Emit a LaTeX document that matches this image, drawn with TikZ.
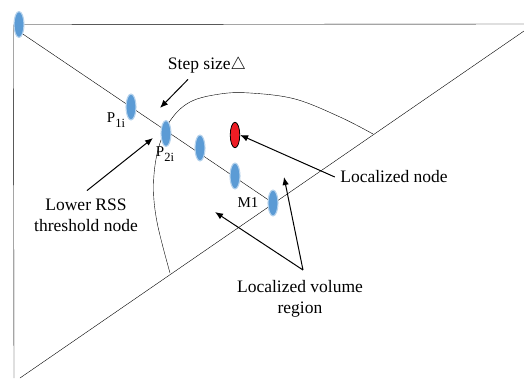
\documentclass[tikz,border=0pt]{standalone}
\usepackage{fontspec}
\setmainfont{Liberation Serif}
\usetikzlibrary{arrows.meta,shapes.geometric,backgrounds}
\definecolor{nodeblue}{RGB}{91,155,213}
\definecolor{nodered}{RGB}{237,28,36}
\newcommand{\lowsub}[1]{\raisebox{-4.5pt}{\fontsize{12.5}{13}\selectfont #1}}
\tikzset{
  anchornode/.style={ellipse,fill=nodeblue,draw=nodeblue!45,line width=1.1pt,
    minimum width=10pt,minimum height=26pt,inner sep=0pt},
  targetnode/.style={ellipse,fill=nodered,draw=black,line width=0.8pt,
    minimum width=9.5pt,minimum height=25.5pt,inner sep=0pt},
  bigtext/.style={font=\fontsize{17.5}{21}\selectfont,align=center,inner sep=2pt},
  smalltext/.style={font=\fontsize{15}{18}\selectfont,inner sep=1pt},
  pointer/.style={-{Latex[length=8pt,width=6.5pt]},line width=1pt},
}

\begin{document}
\begin{tikzpicture}[x=1pt,y=-1pt,line width=1.1pt]
  \useasboundingbox (0,0) rectangle (524,378);
  % sensor nodes along the walk
  \foreach \n/\x/\y in {s0/19/24.5,p1/131/107,p2/166/133.5,s3/200/148,s4/235/176,m1/273/203}
    \node[anchornode] (\n) at (\x,\y) {};
  \node[targetnode] (loc) at (235,135) {};
  % room corners
  \coordinate (topR) at (524,24);
  \coordinate (botL) at (14,378);
  \coordinate (diagL) at (20,378);
  \coordinate (diagR) at (524,31);
  \begin{scope}[on background layer]
    \draw (s0.center) -- (topR);
    \draw (s0.west) -- (botL);
    \draw (diagL) -- (diagR);
    \draw (s0.south east) -- (m1.center);
    % boundary of the volume region
    \draw plot[smooth,tension=0.6] coordinates {(170,273) (157,222) (153.5,185)
      (158,150) (170,121) (190,102) (220,94) (250,93) (295,99) (340,117) (373,134)};
  \end{scope}
  % labels
  \node[bigtext] (step) at (207,65) {Step size$\triangle$};
  \node[smalltext] (p1lbl) at (116,120) {P\lowsub{1i}};
  \node[smalltext] (p2lbl) at (165,154) {P\lowsub{2i}};
  \node[smalltext] (m1lbl) at (248,203) {M1};
  \node[bigtext] (rss) at (86,215) {Lower RSS\\threshold node};
  \node[bigtext] (locl) at (394,177) {Localized node};
  \node[bigtext] (vol) at (300,299) {Localized volume\\region};
  % pointers
  \coordinate (stepTip) at (160,108);
  \coordinate (rssTip) at (153,138);
  \coordinate (volTipA) at (284,177);
  \coordinate (volTipB) at (215,212);
  \coordinate (volTop) at ([shift={(3,-8)}]vol.north);
  \draw[pointer] ([shift={(-19,4)}]step.south) -- (stepTip);
  \draw[pointer] ([shift={(1,-5.5)}]rss.north) -- (rssTip);
  \draw[pointer] ([shift={(-3,0)}]locl.west) -- (loc.east);
  \draw[pointer] (volTop) -- (volTipA);
  \draw[pointer] (volTop) -- (volTipB);
\end{tikzpicture}
\end{document}
